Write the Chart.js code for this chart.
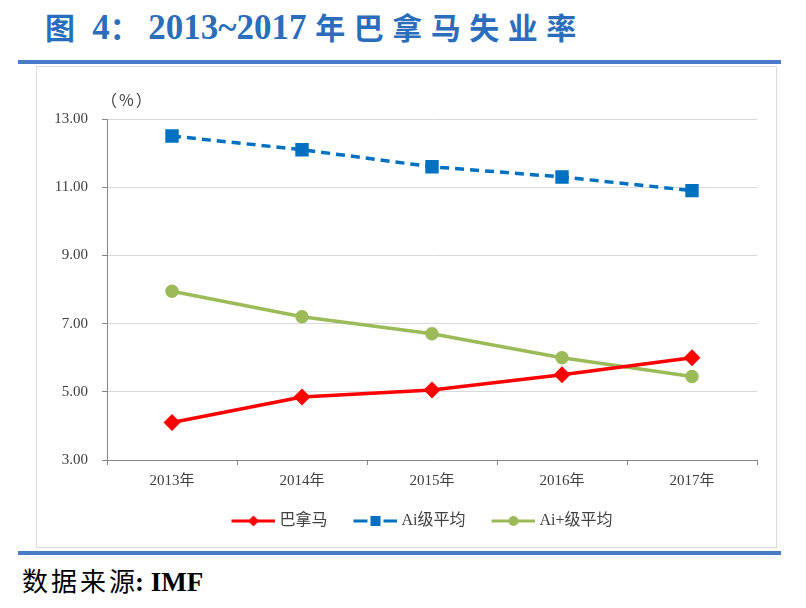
<!DOCTYPE html>
<html>
<head>
<meta charset="utf-8">
<script src="https://cdn.jsdelivr.net/npm/chart.js@4/dist/chart.umd.min.js"></script>
<style>
body { margin: 0; width: 806px; height: 608px; background: #fff; position: relative; overflow: hidden;
  font-family: "Liberation Serif", "Noto Sans CJK SC", serif; }
#title { position: absolute; left: 45px; top: 6px; line-height: 40px; font-weight: bold; color: #2A6EBB; white-space: nowrap; }
#title .cn { font-size: 30px; letter-spacing: 8.5px; font-family: "Noto Sans CJK SC", sans-serif; }
#title .lat { font-size: 35px; }
.rule { position: absolute; left: 18px; width: 763px; height: 4px; background: #4A7BC8; }
#frame { position: absolute; left: 36px; top: 66px; width: 741px; height: 482px; border: 1px solid #D9D9D9; box-sizing: border-box; }
#chart { position: absolute; left: 36px; top: 66px; }
#unit { position: absolute; left: 101px; top: 87px; font-size: 16px; letter-spacing: 2px; color: #404040; font-family: "Noto Sans CJK SC", sans-serif; }
#src { position: absolute; left: 22px; top: 562px; line-height: 36px; color: #000; white-space: nowrap; }
#src .cn { font-size: 26px; letter-spacing: 3px; margin-right: -3px; font-family: "Noto Sans CJK SC", sans-serif; }
#src .lat { font-size: 27px; font-weight: bold; }
</style>
</head>
<body>
<div id="title"><span class="cn">图</span><span class="lat"> 4</span><span class="cn">：</span><span class="lat">2013~2017 </span><span class="cn">年巴拿马失业率</span></div>
<div class="rule" style="top:60px"></div>
<div id="frame"></div>
<canvas id="chart" width="741" height="482"></canvas>
<div id="unit">（%）</div>
<div class="rule" style="top:551px"></div>
<div id="src"><span class="cn">数据来源</span><span class="lat">: IMF</span></div>

<script>
var years = ['2013年', '2014年', '2015年', '2016年', '2017年'];
var panama = [4.1, 4.85, 5.05, 5.5, 6.0];
var aiAvg = [12.5, 12.1, 11.6, 11.3, 10.9];
var aiPlusAvg = [7.95, 7.2, 6.7, 6.0, 5.45];
var yMin = 3, yMax = 13, yStep = 2;

var RED = '#FF0000', BLUE = '#0070C0', GREEN = '#9BBB59';

// legend icons: blank lead-in, then line + marker (Excel style)
function legendIcon(color, shape) {
  var c = document.createElement('canvas');
  c.width = 64; c.height = 14;
  var g = c.getContext('2d');
  g.strokeStyle = color; g.fillStyle = color; g.lineWidth = 3;
  var x0 = 20, x1 = 64, cx = 42, cy = 7;
  g.beginPath();
  if (shape === 'rect') {
    g.moveTo(x0, cy); g.lineTo(x0 + 14, cy);
    g.moveTo(x1 - 14, cy); g.lineTo(x1, cy);
  } else {
    g.moveTo(x0, cy); g.lineTo(x1, cy);
  }
  g.stroke();
  g.beginPath();
  if (shape === 'rectRot') {
    g.moveTo(cx, cy - 5.5); g.lineTo(cx + 5.5, cy); g.lineTo(cx, cy + 5.5); g.lineTo(cx - 5.5, cy);
  } else if (shape === 'rect') {
    g.rect(cx - 5, cy - 5, 10, 10);
  } else {
    g.arc(cx, cy, 5, 0, Math.PI * 2);
  }
  g.fill();
  return c;
}

var icons = [legendIcon(RED, 'rectRot'), legendIcon(BLUE, 'rect'), legendIcon(GREEN, 'circle')];

var tickFont = { family: '"Liberation Serif", "Noto Sans CJK SC", serif', size: 15 };

new Chart(document.getElementById('chart').getContext('2d'), {
  type: 'line',
  data: {
    labels: years,
    datasets: [
      { label: '巴拿马', data: panama, borderColor: RED, backgroundColor: RED, borderWidth: 3.5,
        pointStyle: 'rectRot', pointRadius: 6, pointHoverRadius: 6, tension: 0 },
      { label: 'Ai级平均', data: aiAvg, borderColor: BLUE, backgroundColor: BLUE, borderWidth: 3.5,
        borderDash: [9, 6], pointStyle: 'rect', pointRadius: 7, pointHoverRadius: 7, tension: 0 },
      { label: 'Ai+级平均', data: aiPlusAvg, borderColor: GREEN, backgroundColor: GREEN, borderWidth: 3.5,
        pointStyle: 'circle', pointRadius: 5, pointHoverRadius: 5, tension: 0 }
    ]
  },
  options: {
    responsive: false,
    animation: false,
    layout: { padding: { left: 0, right: 20, top: 53, bottom: 9 } },
    plugins: {
      tooltip: { enabled: false },
      legend: {
        position: 'bottom',
        fullSize: false,
        labels: {
          usePointStyle: true,
          pointStyleWidth: 56,
          padding: 10,
          color: '#404040',
          font: { family: '"Liberation Serif", "Noto Sans CJK SC", serif', size: 16 },
          generateLabels: function(chart) {
            var n = chart.data.datasets.length;
            return chart.data.datasets.map(function(ds, i) {
              // trailing blanks on the last item nudge the centred row to the left
              var txt = i === n - 1 ? ds.label + '\u00a0\u00a0\u00a0\u00a0\u00a0\u00a0\u00a0\u00a0\u00a0' : ds.label;
              return { text: txt, pointStyle: icons[i], datasetIndex: i, lineWidth: 0,
                       fillStyle: 'transparent', strokeStyle: 'transparent', fontColor: '#404040' };
            });
          }
        }
      }
    },
    scales: {
      x: {
        offset: true,
        grid: { display: true, drawOnChartArea: false, offset: true, tickLength: 5, color: '#868686' },
        border: { color: '#868686' },
        ticks: { color: '#404040', font: tickFont, padding: 7, maxRotation: 0 },
        afterFit: function(s) { s.height = 43; }
      },
      y: {
        min: yMin, max: yMax,
        grid: { color: '#D9D9D9', tickColor: '#868686', tickLength: 5 },
        border: { color: '#868686' },
        ticks: { stepSize: yStep, color: '#404040', font: tickFont, padding: 14,
                 callback: function(v) { return v.toFixed(2); } },
        afterFit: function(s) { s.width = 71; }
      }
    }
  }
});
</script>
</body>
</html>
